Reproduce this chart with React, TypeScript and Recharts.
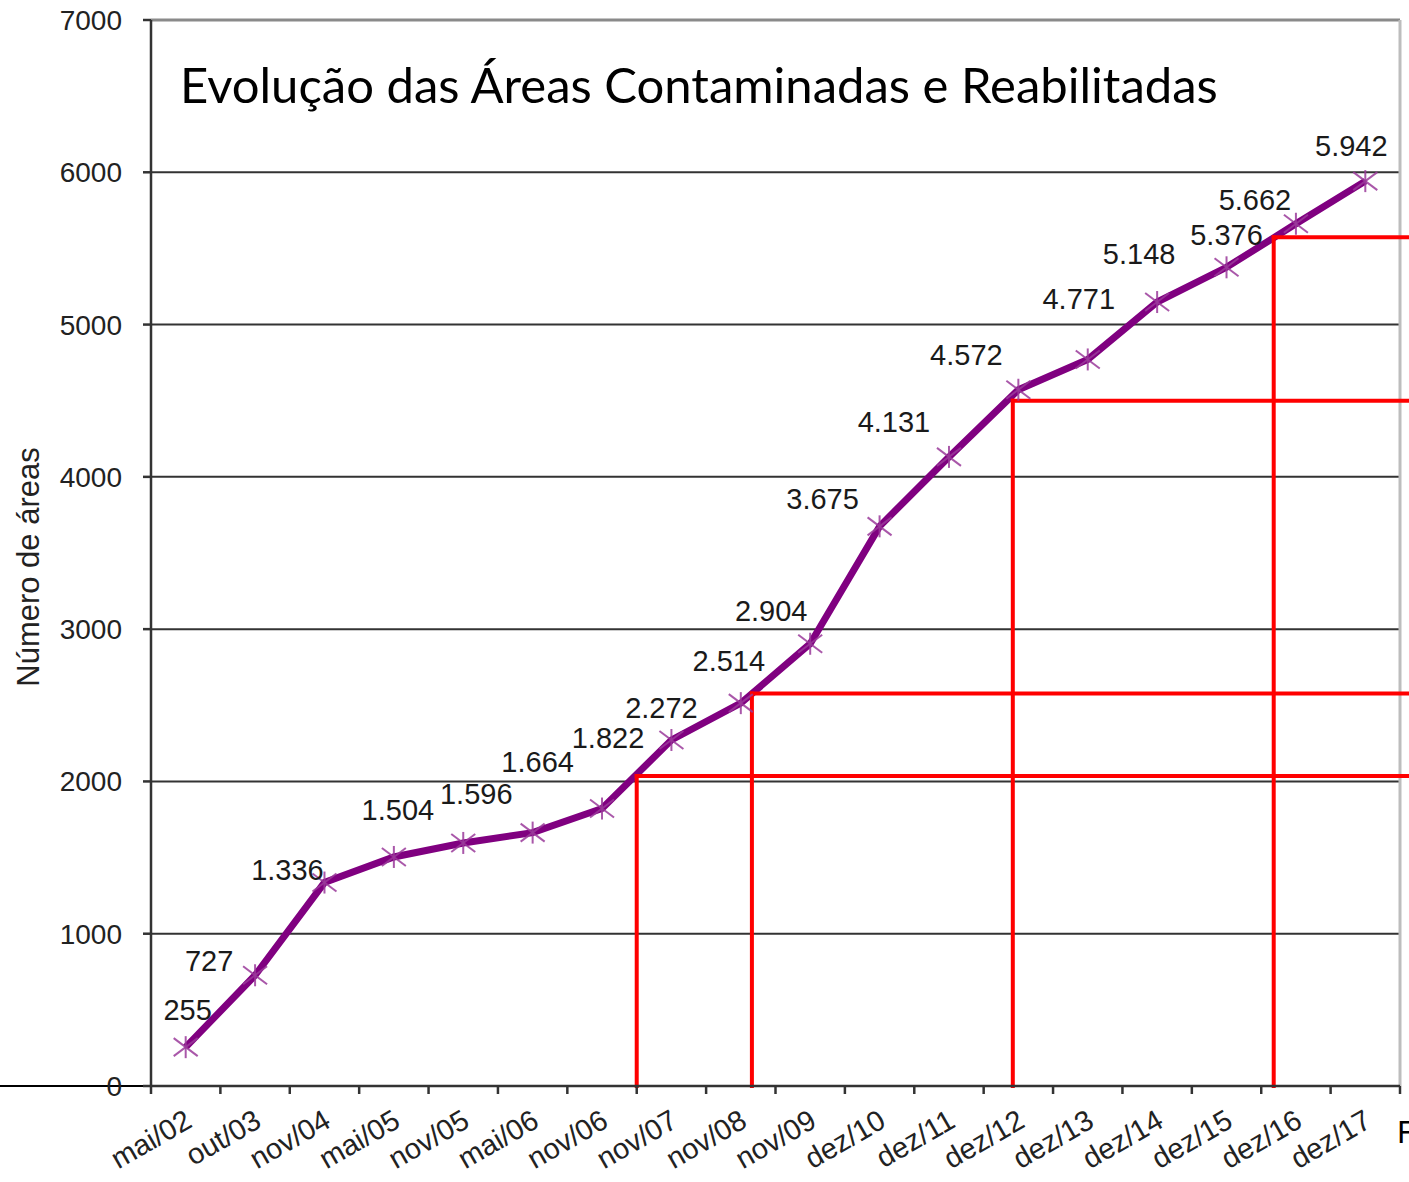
import {
  CartesianGrid,
  LabelList,
  Line,
  LineChart,
  ReferenceLine,
  XAxis,
  YAxis,
} from "recharts";

const periods = [
  "mai/02", "out/03", "nov/04", "mai/05", "nov/05", "mai/06",
  "nov/06", "nov/07", "nov/08", "nov/09", "dez/10", "dez/11",
  "dez/12", "dez/13", "dez/14", "dez/15", "dez/16", "dez/17",
];

const areas = [
  255, 727, 1336, 1504, 1596, 1664, 1822, 2272, 2514,
  2904, 3675, 4131, 4572, 4771, 5148, 5376, 5662, 5942,
];

const yTicks = [0, 1000, 2000, 3000, 4000, 5000, 6000, 7000];

// red step annotations: start on the x axis (in bands), level in areas
const stepStarts = [7, 8.66, 12.42, 16.18];
const stepLevels = [2035, 2577, 4500, 5573];

// how far each value label sits from its point (px)
const labelNudges: [number, number][] = [
  [2, -37], [-46, -14], [-37, -13], [4, -47], [13, -49], [5, -71],
  [6, -71], [-10, -32], [-12, -42], [-39, -33], [-57, -27], [-55, -35],
  [-52, -35], [-9, -60], [-18, -48], [0, -32], [-41, -24], [-14, -35],
];

// slot = band centre on the hidden numeric axis used for the red annotations
const data = periods.map((period, i) => ({ period, slot: i + 0.5, areas: areas[i] }));

const AXIS = "#333333";
const FONT = "'Liberation Sans', Arial, sans-serif";

function formatThousands(value: number): string {
  return String(value).replace(/\B(?=(\d{3})+(?!\d))/g, ".");
}

function CategoryTick(props: any) {
  const { x, y, payload, index } = props;
  const half = payload?.offset ?? 0;
  const last = index === periods.length - 1;
  return (
    <g>
      <line x1={x - half} x2={x - half} y1={y - 8} y2={y} stroke={AXIS} strokeWidth={2.5} />
      {last && (
        <line x1={x + half} x2={x + half} y1={y - 8} y2={y} stroke={AXIS} strokeWidth={2.5} />
      )}
      <text
        x={x + 8}
        y={y + 32}
        textAnchor="end"
        transform={`rotate(-30, ${x + 8}, ${y + 32})`}
        fill="#222"
        fontSize={29}
        fontFamily={FONT}
      >
        {payload.value}
      </text>
    </g>
  );
}

function StarDot(props: any) {
  const { cx, cy } = props;
  if (cx == null || cy == null) return null;
  return (
    <g stroke="#9a3a9a" strokeWidth={2} strokeOpacity={0.85}>
      <line x1={cx - 12} y1={cy - 9} x2={cx + 12} y2={cy + 9} />
      <line x1={cx - 12} y1={cy + 9} x2={cx + 12} y2={cy - 9} />
      <line x1={cx} y1={cy - 11} x2={cx} y2={cy + 11} />
    </g>
  );
}

function ValueLabel(props: any) {
  const { x, y, value, index } = props;
  const [dx, dy] = labelNudges[index] ?? [0, -30];
  return (
    <text
      x={x + dx}
      y={y + dy}
      textAnchor="middle"
      dominantBaseline="central"
      fill="#1a1a1a"
      fontSize={29}
      fontFamily={FONT}
    >
      {formatThousands(value)}
    </text>
  );
}

export default function App() {
  const rightEdge = periods.length + 0.13;
  return (
    <div style={{ position: "absolute", left: 0, top: 0, width: 1409, height: 1182, background: "#fff" }}>
      <LineChart
        width={1409}
        height={1182}
        data={data}
        margin={{ top: 20, right: 9, bottom: 0, left: 0 }}
      >
        <CartesianGrid vertical={false} stroke={AXIS} strokeWidth={2} />
        <XAxis
          xAxisId="cat"
          dataKey="period"
          scale="band"
          height={96}
          interval={0}
          tickSize={8}
          tickMargin={0}
          tickLine={false}
          axisLine={{ stroke: AXIS, strokeWidth: 2.5 }}
          tick={<CategoryTick />}
        />
        <XAxis
          xAxisId="num"
          dataKey="slot"
          type="number"
          scale="linear"
          domain={[0, periods.length]}
          hide
          allowDataOverflow
        />
        <YAxis
          width={151}
          domain={[0, 7000]}
          ticks={yTicks}
          interval={0}
          tickSize={8}
          tickMargin={21}
          axisLine={{ stroke: AXIS, strokeWidth: 2.5 }}
          tickLine={{ stroke: AXIS, strokeWidth: 2.5 }}
          tick={{ fill: "#222", fontSize: 28, fontFamily: FONT }}
        />
        <ReferenceLine xAxisId="cat" y={7000} stroke="#8a8a8a" strokeWidth={3} ifOverflow="visible" />
        <ReferenceLine
          xAxisId="num"
          segment={[{ x: periods.length, y: 0 }, { x: periods.length, y: 7000 }]}
          stroke="#bdbdbd"
          strokeWidth={3}
          ifOverflow="visible"
        />
        <ReferenceLine
          xAxisId="num"
          segment={[{ x: -2.2, y: 0 }, { x: 0, y: 0 }]}
          stroke="#000"
          strokeWidth={2}
          ifOverflow="visible"
        />
        <Line
          xAxisId="cat"
          dataKey="areas"
          type="linear"
          stroke="#800080"
          strokeWidth={7}
          dot={(p: any) => <StarDot key={`dot-${p.index}`} {...p} />}
          activeDot={false}
          isAnimationActive={false}
        >
          <LabelList dataKey="areas" content={<ValueLabel />} />
        </Line>
        {stepStarts.map((start, i) => (
          <ReferenceLine
            key={`v-${i}`}
            xAxisId="num"
            segment={[{ x: start, y: 0 }, { x: start, y: stepLevels[i] }]}
            stroke="#ff0000"
            strokeWidth={4}
            strokeLinecap="square"
            ifOverflow="visible"
          />
        ))}
        {stepStarts.map((start, i) => (
          <ReferenceLine
            key={`h-${i}`}
            xAxisId="num"
            segment={[{ x: start, y: stepLevels[i] }, { x: rightEdge, y: stepLevels[i] }]}
            stroke="#ff0000"
            strokeWidth={4}
            strokeLinecap="square"
            ifOverflow="visible"
          />
        ))}
      </LineChart>
      <svg
        width={1409}
        height={1182}
        style={{ position: "absolute", left: 0, top: 0, pointerEvents: "none" }}
      >
        <text x={180} y={103} fontSize={49} fontFamily="Lato, 'Open Sans', sans-serif" fill="#000">
          Evolução das Áreas Contaminadas e Reabilitadas
        </text>
        <text
          x={28}
          y={567}
          fontSize={31}
          fontFamily={FONT}
          fill="#222"
          textAnchor="middle"
          dominantBaseline="central"
          transform="rotate(-90, 28, 567)"
        >
          Número de áreas
        </text>
        <text x={1397} y={1143} fontSize={30} fontFamily="Lato, sans-serif" fill="#000">
          F
        </text>
      </svg>
    </div>
  );
}
